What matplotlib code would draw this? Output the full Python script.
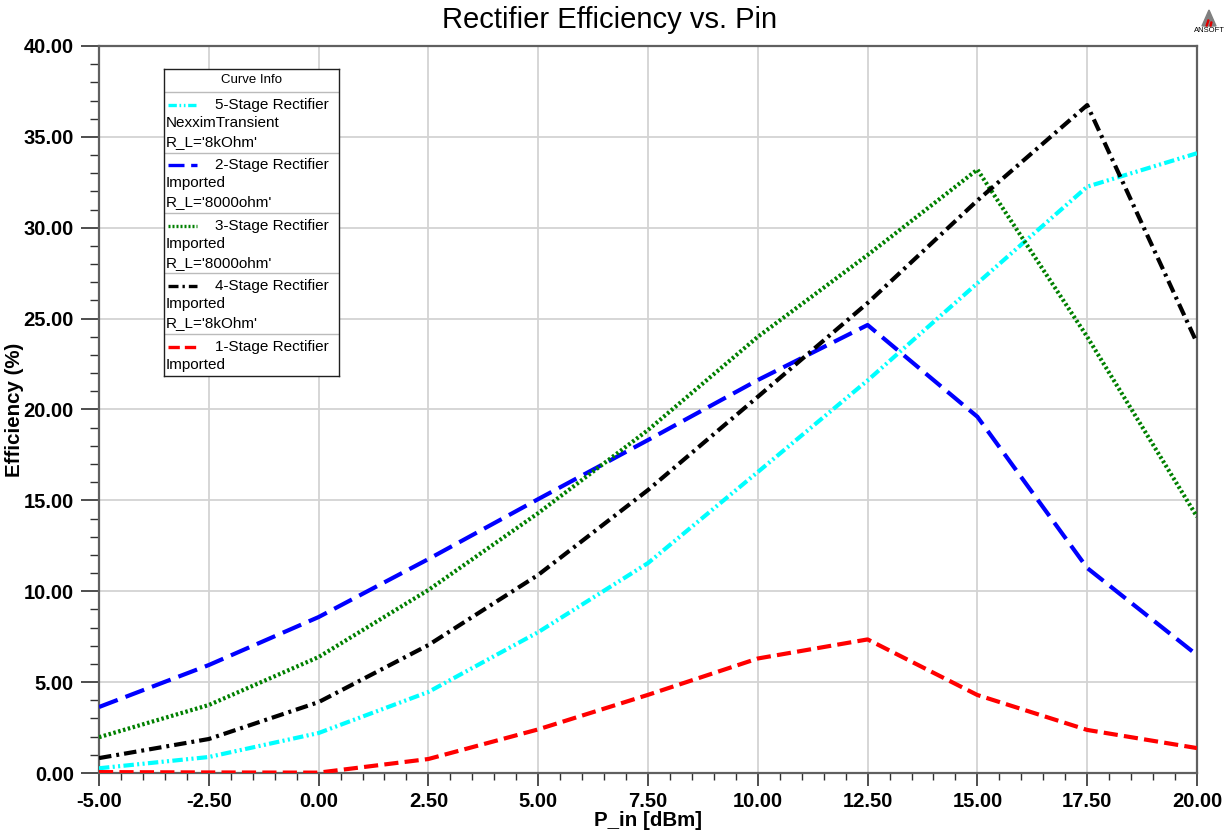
import matplotlib
matplotlib.use("Agg")
import matplotlib.pyplot as plt
from matplotlib.lines import Line2D
from matplotlib.patches import Polygon
from matplotlib.ticker import MultipleLocator, FormatStrFormatter

plt.rcParams['font.family'] = ['Liberation Sans', 'DejaVu Sans']

pin = [-5.0, -2.5, 0.0, 2.5, 5.0, 7.5, 10.0, 12.5, 15.0, 17.5, 20.0]
eff_5stage = [0.26, 0.88, 2.2, 4.46, 7.75, 11.55, 16.56, 21.6, 26.95, 32.26, 34.1]
eff_2stage = [3.63, 5.94, 8.58, 11.77, 15.07, 18.32, 21.62, 24.65, 19.6, 11.28, 6.49]
eff_3stage = [1.97, 3.74, 6.38, 10.07, 14.3, 18.87, 24.0, 28.5, 33.2, 24.0, 14.1]
eff_4stage = [0.82, 1.87, 3.9, 7.04, 10.9, 15.57, 20.7, 25.86, 31.5, 36.75, 23.66]
eff_1stage = [0.05, 0.03, 0.02, 0.77, 2.4, 4.3, 6.3, 7.35, 4.29, 2.37, 1.37]

series = [
    (eff_5stage, '#00FFFF', (2.5, 0.8, 0.5, 0.8, 0.5, 0.8), ["5-Stage Rectifier", "NexximTransient", "R_L='8kOhm'"]),
    (eff_2stage, '#0000FF', (4.8, 2.0), ["2-Stage Rectifier", "Imported", "R_L='8000ohm'"]),
    (eff_3stage, '#008000', (0.6, 0.6), ["3-Stage Rectifier", "Imported", "R_L='8000ohm'"]),
    (eff_4stage, '#000000', (3.0, 1.2, 0.7, 1.2), ["4-Stage Rectifier", "Imported", "R_L='8kOhm'"]),
    (eff_1stage, '#FF0000', (3.4, 1.5), ["1-Stage Rectifier", "Imported"]),
]

W, H = 1231, 830
fig = plt.figure(figsize=(W / 100, H / 100), dpi=100)
ax = fig.add_axes([99 / W, 1 - 773 / H, (1197 - 99) / W, (773 - 46) / H])

for vals, col, dash, lab in series:
    ax.plot(pin, vals, color=col, lw=3.0, dashes=dash, solid_capstyle='butt',
            dash_capstyle='butt', zorder=3)

ax.set_xlim(-5, 20)
ax.set_ylim(0, 40)
ax.xaxis.set_major_locator(MultipleLocator(2.5))
ax.xaxis.set_minor_locator(MultipleLocator(0.5))
ax.yaxis.set_major_locator(MultipleLocator(5))
ax.yaxis.set_minor_locator(MultipleLocator(1))
ax.xaxis.set_major_formatter(FormatStrFormatter('%.2f'))
ax.yaxis.set_major_formatter(FormatStrFormatter('%.2f'))
ax.grid(True, which='major', color='#D3D3D3', lw=1.3, zorder=0)
for s in ax.spines.values():
    s.set_color('#606060')
    s.set_linewidth(1.6)
ax.tick_params(axis='both', which='both', direction='out', color='#303030')
ax.tick_params(axis='y', which='major', length=13, width=1.2, labelsize=14.5, pad=5)
ax.tick_params(axis='y', which='minor', length=6.5, width=1.0)
ax.tick_params(axis='x', which='major', length=9.5, width=1.2, labelsize=14.5, pad=4)
ax.tick_params(axis='x', which='minor', length=5, width=1.0)
for lbl in ax.get_xticklabels() + ax.get_yticklabels():
    lbl.set_fontweight('bold')

ax.set_xlabel('P_in [dBm]', fontsize=14.8, fontweight='bold', labelpad=0)
ax.set_ylabel('Efficiency (%)', fontsize=14.8, fontweight='bold')
ax.yaxis.set_label_coords((24 - 99) / 1098, 0.5)
fig.text(610 / W, 1 - 20 / H, 'Rectifier Efficiency vs. Pin', ha='center', va='center', fontsize=21)

# Legend box (Curve Info)
lx0, lx1, ly0, ly1 = 164, 339, 69, 376
lax = fig.add_axes([lx0 / W, 1 - ly1 / H, (lx1 - lx0) / W, (ly1 - ly0) / H])
lax.set_xlim(lx0, lx1)
lax.set_ylim(ly1, ly0)
lax.set_xticks([])
lax.set_yticks([])
for s in lax.spines.values():
    s.set_color('#202020')
    s.set_linewidth(1.0)
lax.set_zorder(5)
lax.text((lx0 + lx1) / 2, 80, 'Curve Info', ha='center', va='center', fontsize=9.5)
seps = [92, 153, 213, 273, 334]
for y in seps:
    lax.plot([lx0, lx1], [y, y], color='#BBBBBB', lw=1.0)
row_starts = [105, 165, 226, 286, 347]
for (vals, col, dash, lab), y0 in zip(series, row_starts):
    lax.add_line(Line2D([168, 197], [y0, y0], color=col, lw=2.4, dashes=dash))
    lax.text(215, y0, lab[0], ha='left', va='center', fontsize=11)
    for i, t in enumerate(lab[1:]):
        lax.text(166, y0 + 18.3 * (i + 1), t, ha='left', va='center', fontsize=11)

# ANSOFT logo
lg = fig.add_axes([1190 / W, 1 - 36 / H, 40 / W, 30 / H])
lg.set_xlim(0, 40)
lg.set_ylim(0, 30)
lg.axis('off')
lg.add_patch(Polygon([[12, 10], [19, 26], [26, 10]], closed=True, color='#808080'))
lg.add_patch(Polygon([[16, 10], [18, 16], [19, 16], [17, 10]], closed=True, color='#E00000'))
lg.add_patch(Polygon([[20, 10], [21, 14], [22, 14], [21, 10]], closed=True, color='#E00000'))
lg.text(19, 5, 'ANSOFT', ha='center', va='center', fontsize=5.5)

fig.savefig('out.png', dpi=100)
